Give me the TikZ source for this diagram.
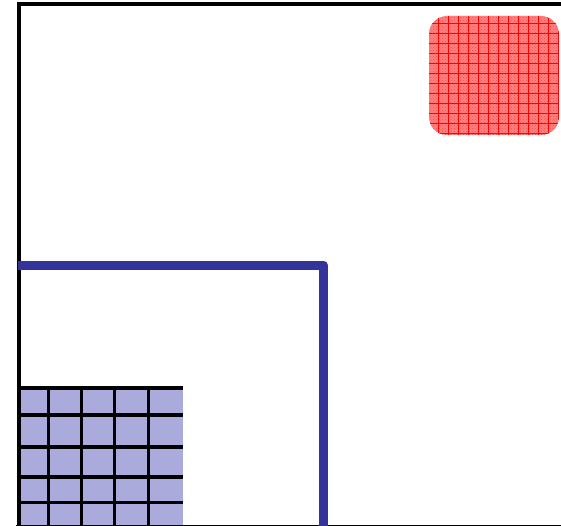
\documentclass[tikz,border=0pt]{standalone}
\usetikzlibrary{patterns}
\definecolor{gridfill}{HTML}{AAAADD}
\definecolor{pathblue}{HTML}{333399}
\begin{document}
\begin{tikzpicture}[x=1pt,y=-1pt]
\useasboundingbox (0,0) rectangle (561,526);
\clip (0,0) rectangle (561,526);
% grid block
\fill[gridfill] (18,387) rectangle (183,526);
\foreach \gx in {48.5,81.5,114.5,148.5}
  \draw[line width=3.4pt] (\gx,387) -- (\gx,526);
\foreach \gy in {388,415,447,477,502.5}
  \draw[line width=3.4pt] (18,\gy) -- (183,\gy);
% frame
\draw[line width=4pt] (18.5,526) -- (18.5,4.5) -- (561,4.5);
\draw[line width=1.2pt] (16,525.3) -- (561,525.3);
% blue path
\draw[pathblue, line width=9pt, line join=round] (18,265) -- (323.5,265) -- (323.5,530);
% red rounded box
\fill[red!50, rounded corners=18pt] (429,16) rectangle (559,135);
\begin{scope}
\clip[rounded corners=18pt] (429,16) rectangle (559,135);
\fill[pattern=crosshatch dots, pattern color=red!70] (429,16) rectangle (559,135);
\foreach \rx in {438,448,...,558}
  \draw[red, line width=0.6pt] (\rx,16) -- (\rx,135);
\foreach \ry in {23,33,...,133}
  \draw[red, line width=0.6pt] (429,\ry) -- (559,\ry);
\end{scope}
\end{tikzpicture}
\end{document}
